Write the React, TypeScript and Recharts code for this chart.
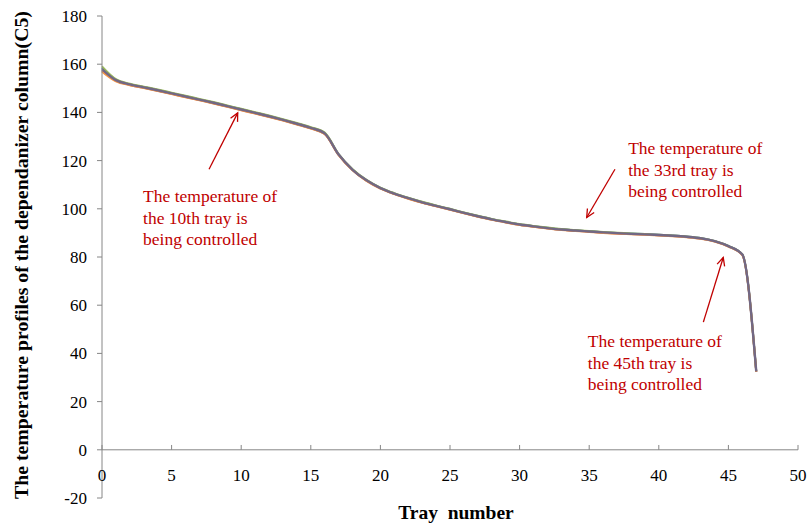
import React from "react";
import { LineChart, Line, XAxis, YAxis, ReferenceLine, ReferenceDot } from "recharts";

// tray number 0..47
const trays = [
	0, 1, 2, 3, 4, 5, 6, 7, 8, 9, 10, 11, 12, 13, 14, 15, 16, 17, 18, 19, 20, 21, 22, 23,
	24, 25, 26, 27, 28, 29, 30, 31, 32, 33, 34, 35, 36, 37, 38, 39, 40, 41, 42, 43, 44, 45, 46, 47,
];

// temperature profiles, one per control case (they nearly overlap)
const blueSeries = [
	158.5, 153.5, 151.7, 150.5, 149.3, 148.0, 146.7, 145.4, 144.1, 142.7, 141.3, 139.9, 138.5, 137.0, 135.4, 133.7,
	131.4, 122.6, 116.3, 111.9, 108.7, 106.4, 104.5, 102.8, 101.3, 99.9, 98.4, 97.0, 95.7, 94.6, 93.6, 92.8,
	92.1, 91.5, 91.1, 90.7, 90.3, 90.0, 89.7, 89.5, 89.2, 88.9, 88.5, 87.9, 86.7, 84.6, 81.1, 32.6,
];
const redSeries = [
	157.4, 153.1, 151.4, 150.2, 149.0, 147.7, 146.4, 145.1, 143.8, 142.4, 141.0, 139.6, 138.2, 136.7, 135.1, 133.4,
	131.1, 122.4, 116.1, 111.7, 108.5, 106.2, 104.3, 102.6, 101.1, 99.7, 98.2, 96.8, 95.5, 94.4, 93.4, 92.6,
	91.9, 91.3, 90.9, 90.5, 90.1, 89.8, 89.5, 89.3, 89.0, 88.7, 88.3, 87.7, 86.5, 84.4, 80.9, 32.4,
];
const greenSeries = [
	159.1, 153.8, 151.9, 150.7, 149.5, 148.2, 146.9, 145.6, 144.3, 142.9, 141.5, 140.1, 138.7, 137.2, 135.6, 133.9,
	131.6, 122.7, 116.4, 112.0, 108.8, 106.5, 104.6, 102.9, 101.4, 100.0, 98.5, 97.1, 95.8, 94.7, 93.7, 92.9,
	92.2, 91.6, 91.2, 90.8, 90.4, 90.1, 89.8, 89.5, 89.2, 88.9, 88.5, 87.9, 86.7, 84.6, 81.1, 32.6,
];
const orangeSeries = [
	156.9, 152.9, 151.3, 150.1, 148.9, 147.6, 146.3, 145.0, 143.7, 142.3, 140.9, 139.5, 138.1, 136.6, 135.0, 133.3,
	131.0, 122.3, 116.0, 111.6, 108.4, 106.1, 104.2, 102.5, 101.0, 99.6, 98.1, 96.7, 95.4, 94.3, 93.3, 92.5,
	91.8, 91.2, 90.8, 90.4, 90.0, 89.7, 89.4, 89.2, 88.9, 88.6, 88.2, 87.6, 86.4, 84.3, 80.8, 32.3,
];
const purpleSeries = [
	158.0, 153.4, 151.6, 150.4, 149.2, 147.9, 146.6, 145.3, 144.0, 142.6, 141.2, 139.8, 138.4, 136.9, 135.3, 133.6,
	131.3, 122.5, 116.2, 111.8, 108.6, 106.3, 104.4, 102.7, 101.2, 99.8, 98.3, 96.9, 95.6, 94.5, 93.5, 92.7,
	92.0, 91.4, 91.0, 90.6, 90.2, 89.9, 89.6, 89.4, 89.1, 88.8, 88.4, 87.8, 86.6, 84.5, 81.0, 32.5,
];

const xTicks = [0, 5, 10, 15, 20, 25, 30, 35, 40, 45, 50];
const yTicks = [-20, 0, 20, 40, 60, 80, 100, 120, 140, 160, 180];

// annotations in data units: text anchor + arrow tail / head
const notes = [
	{ lines: ["The temperature of", "the 10th tray is", "being controlled"], x: 2.95, y: 102.7, from: [7.69, 116.4], to: [9.75, 139.8] },
	{ lines: ["The temperature of", "the 33rd tray is", "being controlled"], x: 37.8, y: 122.6, from: [36.85, 116.4], to: [34.82, 96.4] },
	{ lines: ["The temperature of", "the 45th tray is", "being controlled"], x: 34.9, y: 42.6, from: [43.2, 53.0], to: [44.63, 79.8] },
];

const data = trays.map((t, i) => ({
	tray: t,
	blue: blueSeries[i],
	red: redSeries[i],
	green: greenSeries[i],
	orange: orangeSeries[i],
	purple: purpleSeries[i],
}));

const FONT = '"Liberation Serif", "Times New Roman", serif';
const AXIS = "#868686";
const NOTE = "#C00000";

const Arrow = (p: any) => {
	const { x1, y1, x2, y2 } = p;
	const a = Math.atan2(y2 - y1, x2 - x1);
	const len = 9;
	const spread = 0.45;
	const hx1 = x2 - len * Math.cos(a - spread);
	const hy1 = y2 - len * Math.sin(a - spread);
	const hx2 = x2 - len * Math.cos(a + spread);
	const hy2 = y2 - len * Math.sin(a + spread);
	return (
		<g stroke={NOTE} strokeWidth={1.3} fill="none">
			<line x1={x1} y1={y1} x2={x2} y2={y2} />
			<polyline points={`${hx1},${hy1} ${x2},${y2} ${hx2},${hy2}`} />
		</g>
	);
};

const NoteText = (lines: string[]) => (p: any) => (
	<text x={p.cx} y={p.cy} fill={NOTE} fontFamily={FONT} fontSize={17.5}>
		{lines.map((l, i) => (
			<tspan key={i} x={p.cx} dy={i === 0 ? 0 : 21.5}>
				{l}
			</tspan>
		))}
	</text>
);

const XTick = (p: any) => (
	<text x={p.x} y={p.y - 17} textAnchor="middle" fill="#000" fontFamily={FONT} fontSize={17}>
		{p.payload.value}
	</text>
);

const App = () => {
	return (
		<div style={{ position: "absolute", left: 0, top: 0, width: 811, height: 528, background: "#fff" }}>
			<LineChart width={811} height={528} data={data} margin={{ top: 16, right: 13, bottom: 0, left: 0 }}>
				<XAxis
					dataKey="tray"
					type="number"
					domain={[0, 50]}
					ticks={xTicks}
					axisLine={false}
					tickLine={false}
					tickSize={0}
					tickMargin={0}
					height={30}
					tick={<XTick />}
					label={{
						content: (p: any) => (
							<text x={p.viewBox.x + p.viewBox.width / 2 + 6} y={p.viewBox.y + p.viewBox.height - 9} textAnchor="middle" fontFamily={FONT} fontWeight="bold" fontSize={19.5} fill="#000" style={{ whiteSpace: "pre" }}>
								Tray  number
							</text>
						),
					}}
				/>
				<YAxis
					type="number"
					domain={[-20, 180]}
					ticks={yTicks}
					width={102}
					stroke={AXIS}
					tickSize={5}
					tickMargin={10}
					tick={{ fill: "#000", fontFamily: FONT, fontSize: 17 }}
					label={{
						content: (p: any) => {
							const cx = 21;
							const cy = p.viewBox.y + p.viewBox.height / 2 - 2;
							return (
								<text x={cx} y={cy} transform={`rotate(-90, ${cx}, ${cy})`} textAnchor="middle" dominantBaseline="central" fontFamily={FONT} fontWeight="bold" fontSize={19.8} fill="#000">
									The temperature profiles of the dependanizer column(C5)
								</text>
							);
						},
					}}
				/>
				<ReferenceLine y={0} stroke={AXIS} />
				{xTicks.map((t) => (
					<ReferenceLine key={"xt" + t} segment={[{ x: t, y: 0 }, { x: t, y: 2 }]} stroke={AXIS} />
				))}
				<Line type="monotone" dataKey="blue" stroke="#4F81BD" strokeWidth={2} dot={false} isAnimationActive={false} />
				<Line type="monotone" dataKey="red" stroke="#C0504D" strokeWidth={2} dot={false} isAnimationActive={false} />
				<Line type="monotone" dataKey="green" stroke="#9BBB59" strokeWidth={2} dot={false} isAnimationActive={false} />
				<Line type="monotone" dataKey="orange" stroke="#F79646" strokeWidth={2} dot={false} isAnimationActive={false} />
				<Line type="monotone" dataKey="purple" stroke="#726884" strokeWidth={2.4} dot={false} isAnimationActive={false} />
				{notes.map((n, i) => (
					<ReferenceLine key={"a" + i} segment={[{ x: n.from[0], y: n.from[1] }, { x: n.to[0], y: n.to[1] }]} shape={(p: any) => <Arrow {...p} />} />
				))}
				{notes.map((n, i) => (
					<ReferenceDot key={"t" + i} x={n.x} y={n.y} r={0} shape={NoteText(n.lines)} />
				))}
			</LineChart>
		</div>
	);
};

export default App;
